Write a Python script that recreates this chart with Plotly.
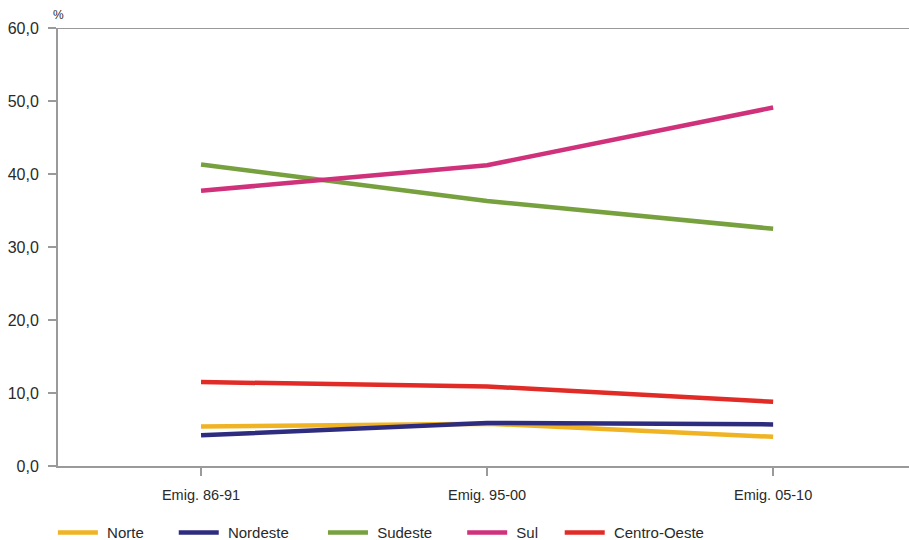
import plotly.graph_objects as go

categories = ["Emig. 86-91", "Emig. 95-00", "Emig. 05-10"]
norte = [5.4, 5.8, 4.0]
nordeste = [4.2, 5.9, 5.7]
sudeste = [41.3, 36.3, 32.5]
sul = [37.7, 41.2, 49.1]
centro_oeste = [11.5, 10.9, 8.8]

series = [
    ("Norte", norte, "#F0B323", 6),
    ("Nordeste", nordeste, "#2E2C7E", 7),
    ("Sudeste", sudeste, "#77A03E", 6),
    ("Sul", sul, "#D0317B", 4),
    ("Centro-Oeste", centro_oeste, "#E02B26", 0),
]

nb = "\u00a0"

fig = go.Figure()
for name, vals, color, trail in series:
    fig.add_trace(go.Scatter(
        x=categories, y=vals, name=nb + name + nb * trail,
        mode="lines", line=dict(color=color, width=4.5),
    ))

axis_color = "#9A9A9A"
fig.update_layout(
    width=909, height=540,
    margin=dict(l=58, r=0, t=28, b=74, autoexpand=False),
    paper_bgcolor="white", plot_bgcolor="white",
    separators=",.",
    font=dict(family="Liberation Sans, Arial, sans-serif", size=15, color="#2a2a2a"),
    showlegend=True,
    legend=dict(orientation="h", x=-0.006, xanchor="left", y=-0.115, yanchor="top",
                font=dict(size=15), itemwidth=40, traceorder="normal"),
    xaxis=dict(
        type="category", range=[-0.5, 2.475], automargin=False,
        showline=True, linecolor=axis_color, linewidth=2,
        ticks="outside", ticklen=8, tickcolor=axis_color, tickwidth=2,
        showgrid=False, zeroline=False, ticklabelstandoff=7,
        tickfont=dict(size=14.5),
    ),
    yaxis=dict(
        range=[0, 60], tickvals=[0, 10, 20, 30, 40, 50, 60], automargin=False,
        tickformat=".1f",
        showline=True, linecolor=axis_color, linewidth=2,
        ticks="outside", ticklen=8, tickcolor=axis_color, tickwidth=2,
        showgrid=False, zeroline=False, ticklabelstandoff=6,
        tickfont=dict(size=16),
    ),
    shapes=[dict(type="line", xref="paper", yref="y", x0=0, x1=1, y0=60, y1=60,
                 line=dict(color=axis_color, width=2))],
    annotations=[dict(text="%", xref="paper", yref="paper", x=0.0, y=1.0,
                      xanchor="center", yanchor="bottom", yshift=4,
                      showarrow=False, font=dict(size=12, color="#2a2a2a"))],
)

fig.write_html(
    "out.html",
    config={"displayModeBar": False},
    post_script="document.body.style.margin='0';document.body.style.overflow='hidden';",
)
